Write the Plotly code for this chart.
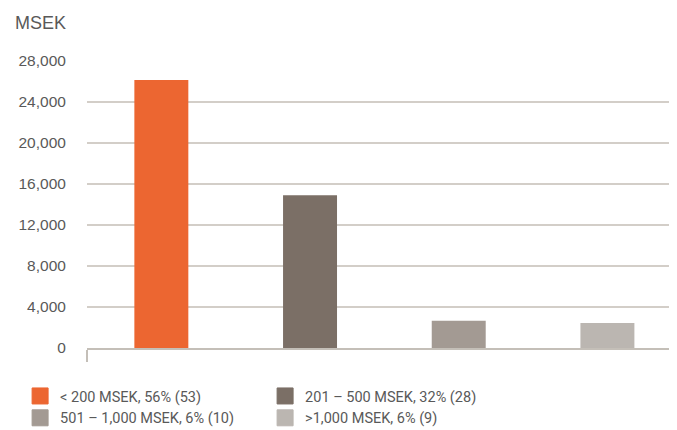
import plotly.graph_objects as go

categories = ["< 200 MSEK, 56% (53)", "201 – 500 MSEK, 32% (28)",
              "501 – 1,000 MSEK, 6% (10)", ">1,000 MSEK, 6% (9)"]
values = [26150, 14900, 2650, 2450]
colors = ["#EC6631", "#7B6F66", "#A39A93", "#BBB6B1"]
y_ticks = [0, 4000, 8000, 12000, 16000, 20000, 24000, 28000]

TEXT = "#595959"
GRID = "#D3CEC8"

fig = go.Figure()
for i, (c, v, col) in enumerate(zip(categories, values, colors)):
    fig.add_trace(go.Bar(x=[i], y=[v], marker_color=col, marker_line_width=0,
                         showlegend=False, width=0.363, hoverinfo="skip"))
    fig.add_trace(go.Scatter(x=[None], y=[None], mode="markers", name=c,
                             marker=dict(symbol="square", size=16, color=col,
                                         line=dict(color=col, width=1))))

fig.update_layout(
    width=669, height=422,
    margin=dict(l=79, r=0, t=53, b=82, autoexpand=False),
    paper_bgcolor="white", plot_bgcolor="white",
    separators=".,",
    font=dict(family="Liberation Sans, Arial, sans-serif", color=TEXT, size=15),
    xaxis=dict(range=[-0.5, 3.468], showgrid=False, zeroline=False,
               showline=True, linecolor="#C4BFB8", linewidth=2,
               tickmode="array", tickvals=[-0.5], ticktext=[""],
               ticks="outside", ticklen=12, tickcolor="#C4BFB8", tickwidth=1.5),
    yaxis=dict(range=[0, 28000], tickmode="array", tickvals=y_ticks,
               tickformat=",d", showgrid=True, gridcolor=GRID, gridwidth=1.5,
               zeroline=False, showline=False,
               ticks="outside", ticklen=17, tickcolor="rgba(0,0,0,0)",
               tickfont=dict(size=15.5, color=TEXT)),
    legend=dict(orientation="h", x=-0.1134, xanchor="left", y=-0.1116, yanchor="top",
                entrywidth=200, entrywidthmode="pixels",
                font=dict(family="Roboto, Liberation Sans, sans-serif",
                          size=14.5, color=TEXT),
                bgcolor="rgba(0,0,0,0)"),
    annotations=[dict(text="MSEK", xref="paper", yref="paper", x=-0.125, y=1.0,
                      xanchor="left", yanchor="bottom", yshift=26, showarrow=False,
                      font=dict(size=18, color=TEXT))],
)

fig.write_html("out.html")
